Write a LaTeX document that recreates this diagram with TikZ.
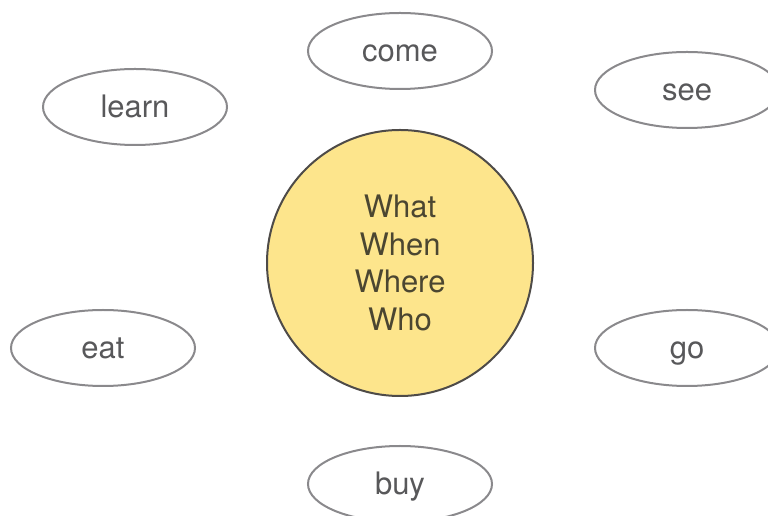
\documentclass[tikz,border=0pt]{standalone}
\usepackage{fontspec}
\setmainfont{TeX Gyre Heros}
\usetikzlibrary{shapes.geometric}

\definecolor{rimgray}{HTML}{8A898C}
\definecolor{wordgray}{HTML}{58585A}
\definecolor{hubfill}{HTML}{FDE58C}
\definecolor{hubline}{HTML}{4E4B48}
\definecolor{hubtext}{HTML}{4B4631}

\tikzset{
  verb/.style={ellipse,draw=rimgray,line width=2pt,minimum width=184pt,
    minimum height=76pt,inner sep=0pt,text=wordgray,
    text height=24pt,text depth=2pt,
    font=\fontsize{31}{36}\selectfont},
  hub/.style={circle,draw=hubline,fill=hubfill,line width=2pt,
    minimum size=266pt,inner sep=0pt,align=center,text=hubtext,
    font=\fontsize{31}{37.5}\selectfont}
}

\begin{document}
\begin{tikzpicture}[x=1pt,y=1pt]
  \useasboundingbox (0,0) rectangle (768,516);
  \node[hub] (Q) at (400,253) {What\\When\\Where\\Who};
  \node[verb] (come) at (400,465) {come};
  \node[verb] (learn) at (135,409) {learn};
  \node[verb] (see) at (687,426) {see};
  \node[verb] (eat) at (103,168) {eat};
  \node[verb] (go) at (687,168) {go};
  \node[verb] (buy) at (400,32) {buy};
\end{tikzpicture}
\end{document}
